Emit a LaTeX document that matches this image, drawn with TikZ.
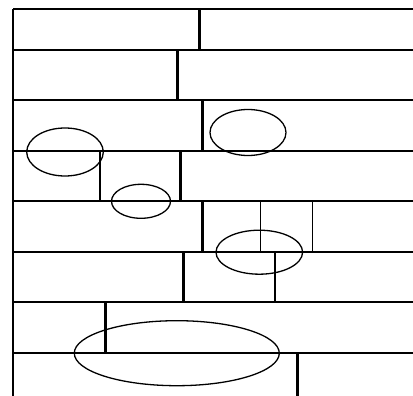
\documentclass[tikz,border=0pt]{standalone}
\begin{document}
\begin{tikzpicture}[x=1pt,y=-1pt,
  course/.style={line width=1.4pt},
  joint/.style={line width=3pt},
  thinjoint/.style={line width=1.3pt},
  ring/.style={line width=1.3pt}]
\useasboundingbox (0,0) rectangle (413,396);
% frame
\draw[course] (13,396) -- (13,9);
\foreach \y in {9,50,100,151,201,252,302,353}
  \draw[course] (13,\y) -- (413,\y);
% thick joints
\draw[joint] (199.5,9) -- (199.5,50);
\draw[joint] (177.5,50) -- (177.5,100);
\draw[joint] (202.7,100) -- (202.7,151);
\draw[joint] (180.3,151) -- (180.3,201);
\draw[joint] (202,201) -- (202,252);
\draw[joint] (183.3,252) -- (183.3,302);
\draw[joint] (105.3,302) -- (105.3,353);
\draw[joint] (297.3,353) -- (297.3,396);
% thin joints
\draw[thinjoint] (100,151) -- (100,201);
\draw[thinjoint] (260.5,201) -- (260.5,252);
\draw[thinjoint] (312.5,201) -- (312.5,252);
\draw[thinjoint] (275,252) -- (275,302);
% ellipses
\draw[ring] (65,152) ellipse [x radius=38.3, y radius=24];
\draw[ring] (248,132.5) ellipse [x radius=38, y radius=23];
\draw[ring] (141,201.3) ellipse [x radius=29.5, y radius=17];
\draw[ring] (259.3,252.2) ellipse [x radius=43.3, y radius=22];
\draw[ring] (176.8,353.2) ellipse [x radius=102.5, y radius=32.5];
\end{tikzpicture}
\end{document}
